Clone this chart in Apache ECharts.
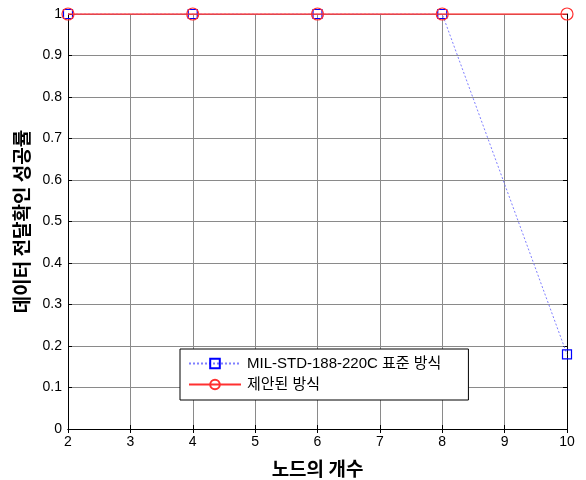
<!DOCTYPE html>
<html>
<head>
<meta charset="utf-8">
<script src="https://cdn.jsdelivr.net/npm/echarts@6/dist/echarts.min.js"></script>
<style>
html,body{margin:0;padding:0;background:#fff;}
#chart{width:586px;height:480px;}
</style>
</head>
<body>
<div id="chart"></div>
<script>
// Node counts on the x axis
var nodeCounts = [2, 4, 6, 8, 10];
// Success rate of data delivery confirmation per scheme
var standardRates = [1, 1, 1, 1, 0.18];
var proposedRates = [1, 1, 1, 1, 1];
var seriesNames = ['MIL-STD-188-220C 표준 방식', '제안된 방식'];
var xTitle = '노드의 개수';
var yTitle = '데이터 전달확인 성공률';

function pairs(xs, ys) {
  return xs.map(function (x, i) { return [x, ys[i]]; });
}

var font = '"Liberation Sans", Arial, "Noto Sans CJK KR", sans-serif';
var krFont = '"Noto Sans CJK KR", sans-serif';

var chart = echarts.init(document.getElementById('chart'), null, {renderer: 'canvas'});
chart.setOption({
  animation: false,
  backgroundColor: '#ffffff',
  grid: {left: 68, right: 19, top: 14, bottom: 51, show: false, outerBoundsMode: 'none', containLabel: false},
  legend: {
    orient: 'vertical',
    left: 180, top: 349,
    padding: [7, 27, 8, 8],
    itemGap: 6,
    itemWidth: 52, itemHeight: 12,
    backgroundColor: '#ffffff',
    borderColor: '#000000', borderWidth: 1,
    textStyle: {fontFamily: font, fontSize: 15, color: '#000', padding: [0, 0, 0, 1]},
    data: seriesNames
  },
  xAxis: [{
    type: 'value', min: 2, max: 10, interval: 1,
    name: xTitle, nameLocation: 'middle', nameGap: 30,
    nameTextStyle: {fontFamily: krFont, fontSize: 19, fontWeight: 'bold', color: '#000'},
    axisLine: {show: true, onZero: false, lineStyle: {color: '#000', width: 1}},
    axisTick: {show: true, inside: true, length: 4, lineStyle: {color: '#000'}},
    axisLabel: {fontFamily: font, fontSize: 14, color: '#000', margin: 6},
    splitLine: {show: true, lineStyle: {color: '#8a8a8a', width: 1}}
  }, {
    type: 'value', min: 2, max: 10, interval: 1, position: 'top',
    axisLine: {show: true, lineStyle: {color: '#000', width: 1}},
    axisTick: {show: true, inside: true, length: 4, lineStyle: {color: '#000'}},
    axisLabel: {show: false},
    splitLine: {show: false}
  }],
  yAxis: [{
    type: 'value', min: 0, max: 1, interval: 0.1,
    name: yTitle, nameLocation: 'middle', nameGap: 33,
    nameTextStyle: {fontFamily: krFont, fontSize: 19, fontWeight: 'bold', color: '#000'},
    axisLine: {show: true, onZero: false, lineStyle: {color: '#000', width: 1}},
    axisTick: {show: true, inside: true, length: 4, lineStyle: {color: '#000'}},
    axisLabel: {fontFamily: font, fontSize: 14, color: '#000', margin: 6,
      formatter: function (v) { return String(Math.round(v * 10) / 10); }},
    splitLine: {show: true, lineStyle: {color: '#8a8a8a', width: 1}}
  }, {
    type: 'value', min: 0, max: 1, interval: 0.1, position: 'right',
    axisLine: {show: true, lineStyle: {color: '#000', width: 1}},
    axisTick: {show: true, inside: true, length: 4, lineStyle: {color: '#000'}},
    axisLabel: {show: false},
    splitLine: {show: false}
  }],
  series: [{
    name: seriesNames[0],
    type: 'line',
    data: pairs(nodeCounts, standardRates),
    symbol: 'rect', symbolSize: 9,
    lineStyle: {color: '#7f7fff', width: 1, type: [2, 2]},
    itemStyle: {color: 'rgba(255,255,255,0)', borderColor: '#0000ff', borderWidth: 1.2},
    z: 2
  }, {
    name: seriesNames[1],
    type: 'line',
    data: pairs(nodeCounts, proposedRates),
    symbol: 'circle', symbolSize: 12,
    lineStyle: {color: '#ff3030', width: 1.5},
    itemStyle: {color: 'rgba(255,255,255,0)', borderColor: '#ff3030', borderWidth: 1.2},
    z: 3
  }]
});
</script>
</body>
</html>
